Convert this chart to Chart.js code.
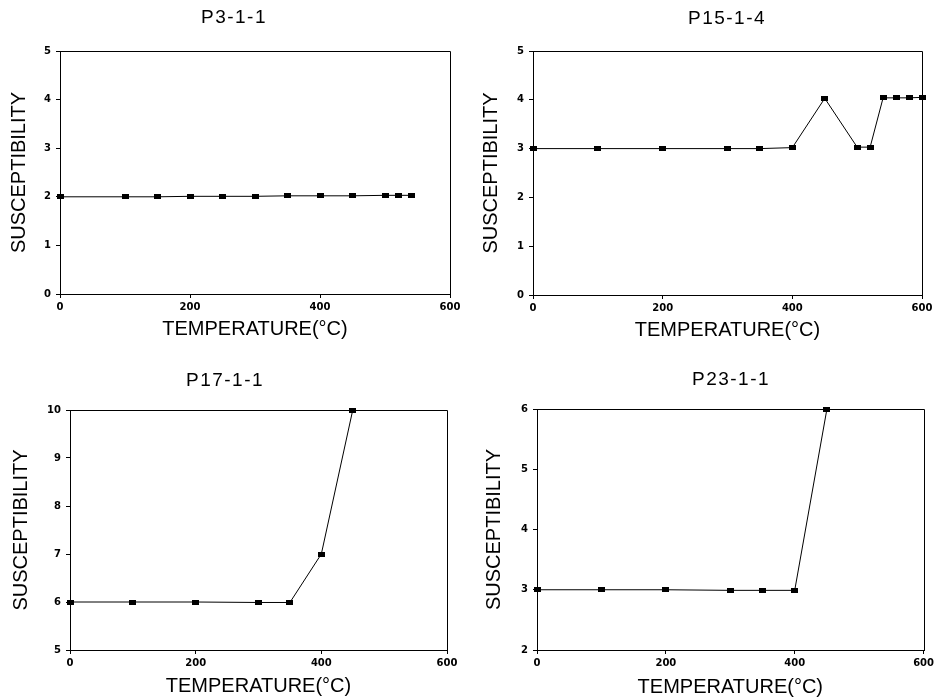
<!DOCTYPE html>
<html><head><meta charset="utf-8">
<script src="https://cdn.jsdelivr.net/npm/chart.js@4/dist/chart.umd.min.js"></script>
<style>
html,body{margin:0;padding:0;background:#fff;}
body{width:937px;height:700px;position:relative;overflow:hidden;}
canvas{position:absolute;}
</style></head><body>
<canvas id="c1" width="468" height="350" style="left:0;top:0"></canvas>
<canvas id="c2" width="469" height="350" style="left:468px;top:0"></canvas>
<canvas id="c3" width="468" height="350" style="left:0;top:350px"></canvas>
<canvas id="c4" width="469" height="350" style="left:468px;top:350px"></canvas>
<script>
// ---- data ----
const titles = ["P3-1-1", "P15-1-4", "P17-1-1", "P23-1-1"];
const temps_P3  = [0, 100, 150, 200, 250, 300, 350, 400, 450, 500, 520, 540];
const susc_P3   = [2.00, 2.00, 2.00, 2.01, 2.01, 2.01, 2.02, 2.02, 2.02, 2.03, 2.03, 2.03];
const temps_P15 = [0, 100, 200, 300, 350, 400, 450, 500, 520, 540, 560, 580, 600];
const susc_P15  = [3.00, 3.00, 3.00, 3.00, 3.00, 3.02, 4.03, 3.03, 3.03, 4.04, 4.04, 4.04, 4.05];
const temps_P17 = [0, 100, 200, 300, 350, 400, 450];
const susc_P17  = [6.00, 6.00, 6.00, 5.99, 5.99, 7.00, 10.00];
const temps_P23 = [0, 100, 200, 300, 350, 400, 450];
const susc_P23  = [3.00, 3.00, 3.00, 2.99, 2.99, 2.99, 6.00];
const xTicks = [0, 200, 400, 600];
const yRange_P3 = [0, 5];
const yRange_P15 = [0, 5];
const yRange_P17 = [5, 10];
const yRange_P23 = [2, 6];
const xLabel = "TEMPERATURE(°C)";
const yLabel = "SUSCEPTIBILITY";

// ---- styling helpers ----
const marker = document.createElement('canvas');
marker.width = 7; marker.height = 5;
(function(){ const m = marker.getContext('2d'); m.fillStyle = '#000'; m.fillRect(0,0,7,5); })();

const framePlugin = {
  id: 'frame',
  afterDraw(chart) {
    const {ctx, chartArea: a} = chart;
    ctx.save();
    ctx.strokeStyle = '#000'; ctx.lineWidth = 1;
    ctx.beginPath();
    const t = Math.round(a.top) + 0.5, r = Math.round(a.right) + 0.5;
    ctx.moveTo(Math.round(a.left), t); ctx.lineTo(r, t); ctx.lineTo(r, Math.round(a.bottom) + 1);
    ctx.stroke();
    ctx.restore();
  }
};
const panelTitle = {
  id: 'panelTitle',
  afterDraw(chart, args, opts) {
    const ctx = chart.ctx;
    ctx.save();
    ctx.font = '19px "Liberation Sans", Arial, sans-serif';
    ctx.fillStyle = '#000'; ctx.textAlign = 'center'; ctx.textBaseline = 'middle';
    if ('letterSpacing' in ctx) ctx.letterSpacing = '1.5px';
    ctx.fillText(opts.text, opts.x, opts.y);
    ctx.restore();
  }
};

const tickFont = {family: '"DejaVu Sans", sans-serif', size: 10, weight: 'bold'};
const axisFont = {family: '"Liberation Sans", Arial, sans-serif', size: 20};

function makeChart(id, title, temps, vals, yRange, L) {
  new Chart(document.getElementById(id), {
    type: 'line',
    data: {
      datasets: [{
        data: temps.map((t, i) => ({x: t, y: vals[i]})),
        borderColor: '#000', borderWidth: 1, tension: 0,
        pointStyle: marker, pointRadius: 3, pointHoverRadius: 3,
        pointBackgroundColor: '#000', pointBorderColor: '#000',
        clip: false
      }]
    },
    plugins: [framePlugin, panelTitle],
    options: {
      responsive: false, animation: false, events: [],
      layout: {autoPadding: false, padding: {top: L.pt, right: L.pr, left: 0, bottom: 0}},
      plugins: {
        legend: {display: false}, tooltip: {enabled: false}, title: {display: false},
        panelTitle: {text: title, x: L.tx, y: L.ty}
      },
      scales: {
        x: {
          type: 'linear', min: xTicks[0], max: xTicks[xTicks.length - 1],
          afterFit(s) { s.height = L.xh; },
          afterBuildTicks(s) { s.ticks = xTicks.map(v => ({value: v})); },
          ticks: {color: '#000', font: tickFont, padding: 3, maxRotation: 0},
          grid: {display: true, drawOnChartArea: false, drawTicks: true, tickLength: 4, color: '#000'},
          border: {display: true, color: '#000', width: 1},
          title: {display: true, text: xLabel, color: '#000', font: axisFont, padding: {top: 0, bottom: L.xtp}}
        },
        y: {
          type: 'linear', min: yRange[0], max: yRange[1],
          afterFit(s) { s.width = L.yw; },
          ticks: {color: '#000', font: tickFont, padding: 5, stepSize: 1},
          grid: {display: true, drawOnChartArea: false, drawTicks: true, tickLength: 4, color: '#000'},
          border: {display: true, color: '#000', width: 1},
          title: {display: true, text: yLabel, color: '#000', font: axisFont, padding: {top: L.ytp, bottom: 0}}
        }
      }
    }
  });
}

makeChart('c1', titles[0], temps_P3, susc_P3, yRange_P3,
  {pt: 51, pr: 18, xh: 56, yw: 60, xtp: 9, ytp: 7, tx: 234, ty: 18});
makeChart('c2', titles[1], temps_P15, susc_P15, yRange_P15,
  {pt: 51, pr: 15, xh: 55, yw: 65, xtp: 8, ytp: 11, tx: 259, ty: 19});
makeChart('c3', titles[2], temps_P17, susc_P17, yRange_P17,
  {pt: 60, pr: 21, xh: 50, yw: 70, xtp: 2, ytp: 9, tx: 225, ty: 31});
makeChart('c4', titles[3], temps_P23, susc_P23, yRange_P23,
  {pt: 59, pr: 11, xh: 50, yw: 69, xtp: 1, ytp: 14, tx: 263, ty: 30});
</script>
</body></html>
